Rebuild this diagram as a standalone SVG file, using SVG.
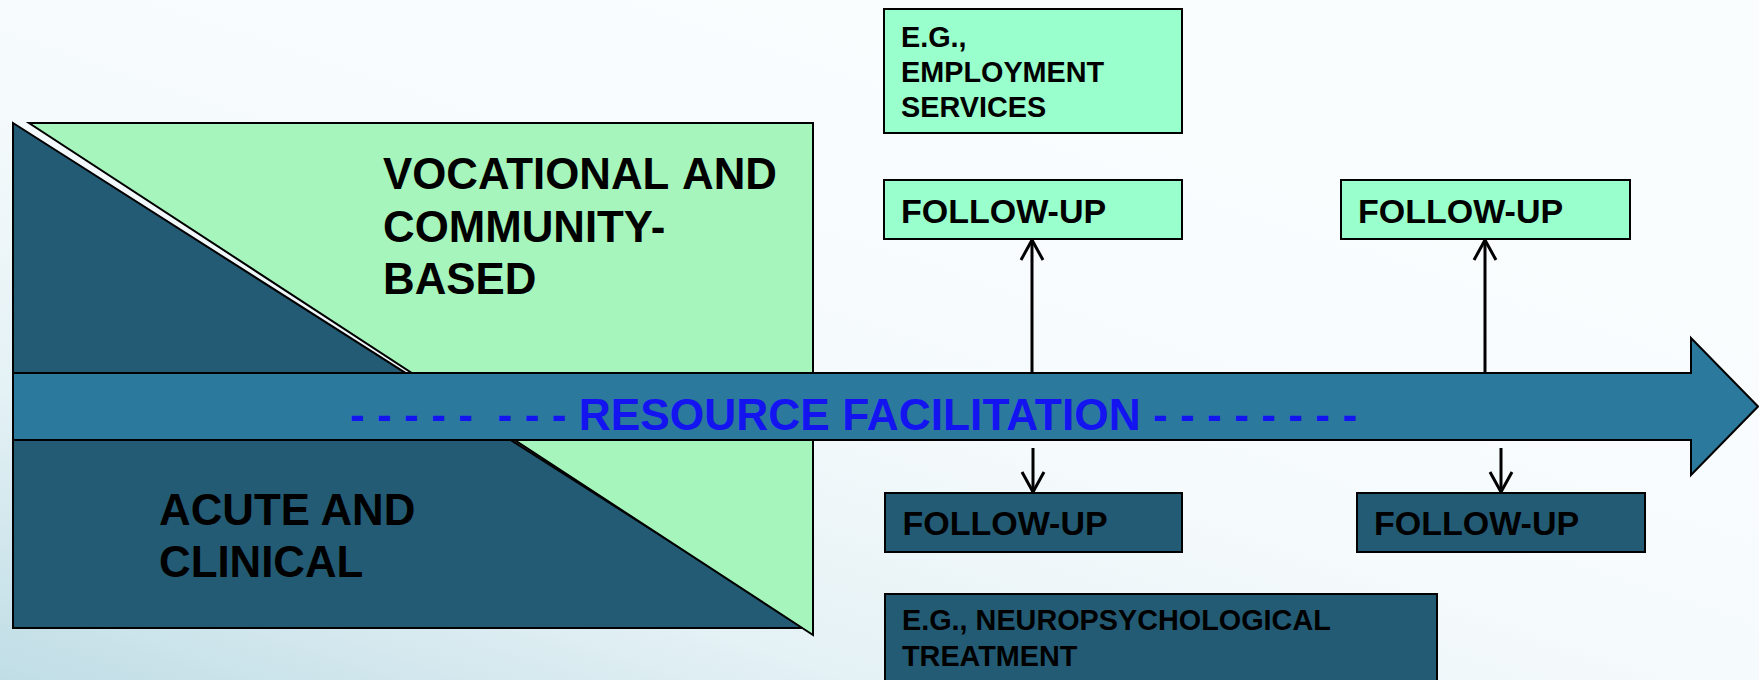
<svg xmlns="http://www.w3.org/2000/svg" width="1759" height="680" viewBox="0 0 1759 680">
<defs>
<linearGradient id="bg" x1="0" y1="1" x2="0.7" y2="0.2">
<stop offset="0" stop-color="#c0dde6"/>
<stop offset="0.3" stop-color="#e4f1f5"/>
<stop offset="0.6" stop-color="#f5fafc"/>
<stop offset="1" stop-color="#fafdfe"/>
</linearGradient>
<marker id="open" viewBox="0 0 24 26" refX="22" refY="13" markerWidth="24" markerHeight="26" markerUnits="userSpaceOnUse" orient="auto">
<path d="M 2 2 L 22 13 L 2 24" fill="none" stroke="#000" stroke-width="3"/>
</marker>
<style>
.lbl{font-family:"Liberation Sans",Arial,sans-serif;font-weight:bold;fill:#000}
.big{font-size:43.8px}
.mid{font-size:34px}
.sm{font-size:28.8px}
.mint{fill:#99ffcc;stroke:#000;stroke-width:2}
.dark{fill:#235b74;stroke:#000;stroke-width:2}
.conn{stroke:#000;stroke-width:3;fill:none;marker-end:url(#open)}
</style>
</defs>
<rect x="0" y="0" width="1759" height="680" fill="url(#bg)"/>
<g id="acute">
<polygon points="13,123 13,628 806,628" fill="#235b74" stroke="#000" stroke-width="2"/>
<text class="lbl big" x="159" y="525">ACUTE AND</text>
<text class="lbl big" x="159" y="577">CLINICAL</text>
</g>
<g id="vocational">
<polygon points="29,123 813,123 813,635" fill="#a6f5bc" stroke="#000" stroke-width="2"/>
<text class="lbl big" x="383" y="189" style="word-spacing:3px">VOCATIONAL AND</text>
<text class="lbl big" x="383" y="241.5">COMMUNITY-</text>
<text class="lbl big" x="383" y="294">BASED</text>
</g>
<g id="resource-facilitation">
<polygon points="13,373 1691,373 1691,338 1758,406.5 1691,475 1691,440 13,440" fill="#2b7a9e" stroke="#000" stroke-width="2"/>
<text class="lbl" x="350" y="430" style="font-size:44.3px;fill:#1414f0;white-space:pre">- - - - -  - - - RESOURCE FACILITATION - - - - - - - -</text>
</g>
<g id="employment">
<rect class="mint" x="884" y="9" width="298" height="124"/>
<text class="lbl sm" x="901" y="47">E.G.,</text>
<text class="lbl sm" x="901" y="82">EMPLOYMENT</text>
<text class="lbl sm" x="901" y="117">SERVICES</text>
</g>
<g id="followup-top-1">
<rect class="mint" x="884" y="180" width="298" height="59"/>
<text class="lbl mid" x="901" y="223">FOLLOW-UP</text>
</g>
<g id="followup-top-2">
<rect class="mint" x="1341" y="180" width="289" height="59"/>
<text class="lbl mid" x="1358" y="222.5">FOLLOW-UP</text>
</g>
<g id="followup-bottom-1">
<rect class="dark" x="885" y="493" width="297" height="59"/>
<text class="lbl mid" x="902.5" y="534.5">FOLLOW-UP</text>
</g>
<g id="followup-bottom-2">
<rect class="dark" x="1357" y="493" width="288" height="59"/>
<text class="lbl mid" x="1374" y="534.5">FOLLOW-UP</text>
</g>
<g id="neuropsych">
<rect class="dark" x="885" y="594" width="552" height="100"/>
<text class="lbl sm" x="902" y="630">E.G., NEUROPSYCHOLOGICAL</text>
<text class="lbl sm" x="902" y="666">TREATMENT</text>
</g>
<g id="connectors">
<line class="conn" x1="1032" y1="373" x2="1032" y2="240"/>
<line class="conn" x1="1485" y1="373" x2="1485" y2="240"/>
<line class="conn" x1="1033" y1="448" x2="1033" y2="492"/>
<line class="conn" x1="1501" y1="448" x2="1501" y2="492"/>
</g>
</svg>
